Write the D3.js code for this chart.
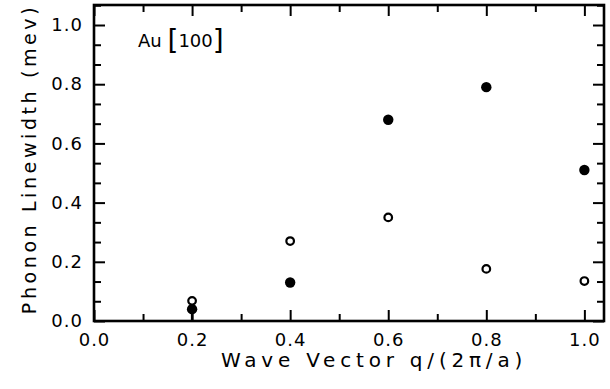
<!DOCTYPE html>
<html>
<head>
<meta charset="utf-8">
<script src="https://cdn.jsdelivr.net/npm/d3@7"></script>
<style>
  body { margin: 0; background: #fff; }
  text { font-family: "DejaVu Sans", sans-serif; fill: #000; }
</style>
</head>
<body>
<div id="chart"></div>
<script>
// data
const qValues = [0.2, 0.4, 0.6, 0.8, 1.0];
const filledWidth = [0.04, 0.13, 0.68, 0.79, 0.51];
const openWidth = [0.068, 0.27, 0.35, 0.176, 0.135];
// lower error bar on the first filled point only
const filledErrLow = [0.04, 0, 0, 0, 0];

const xMajor = [0.0, 0.2, 0.4, 0.6, 0.8, 1.0];
const xMinor = [0.1, 0.3, 0.5, 0.7, 0.9];
const yMajor = [0.0, 0.2, 0.4, 0.6, 0.8, 1.0];
const yMinor = [1, 2, 4, 5, 7, 8, 10, 11, 13, 14, 16].map(i => i / 15);

const W = 610, H = 389;
const plotLeft = 94, plotRight = 604, plotTop = 5, plotBottom = 321;

const svg = d3.select("#chart").append("svg")
    .attr("width", W)
    .attr("height", H);

const x = d3.scaleLinear().domain([0, 1.04]).range([plotLeft, plotRight]);
const y = d3.scaleLinear().domain([0, 1.0676]).range([plotBottom, plotTop]);

const fmt = d3.format(".1f");

function styleAxis(g) {
    g.select(".domain").remove();
    g.selectAll(".tick line").attr("stroke", "#000").attr("stroke-width", 2);
    g.selectAll("text").attr("font-size", 18).attr("letter-spacing", 1);
}

// frame
svg.append("rect")
    .attr("x", plotLeft)
    .attr("y", plotTop)
    .attr("width", plotRight - plotLeft)
    .attr("height", plotBottom - plotTop)
    .style("fill", "none")
    .style("stroke", "#000")
    .style("stroke-width", "2.6px");

// bottom axis
svg.append("g")
    .attr("transform", `translate(0,${plotBottom})`)
    .call(d3.axisBottom(x).tickValues(xMajor).tickSize(-11).tickPadding(12).tickFormat(fmt))
    .call(styleAxis);
svg.append("g")
    .attr("transform", `translate(0,${plotBottom})`)
    .call(d3.axisBottom(x).tickValues(xMinor).tickSize(-7).tickFormat(""))
    .call(styleAxis);
// top axis
svg.append("g")
    .attr("transform", `translate(0,${plotTop})`)
    .call(d3.axisTop(x).tickValues(xMajor).tickSize(-11).tickFormat(""))
    .call(styleAxis);
svg.append("g")
    .attr("transform", `translate(0,${plotTop})`)
    .call(d3.axisTop(x).tickValues(xMinor).tickSize(-7).tickFormat(""))
    .call(styleAxis);
// left axis
svg.append("g")
    .attr("transform", `translate(${plotLeft},0)`)
    .call(d3.axisLeft(y).tickValues(yMajor).tickSize(-11).tickPadding(11).tickFormat(fmt))
    .call(styleAxis);
svg.append("g")
    .attr("transform", `translate(${plotLeft},0)`)
    .call(d3.axisLeft(y).tickValues(yMinor).tickSize(-7).tickFormat(""))
    .call(styleAxis);
// right axis
svg.append("g")
    .attr("transform", `translate(${plotRight},0)`)
    .call(d3.axisRight(y).tickValues(yMajor).tickSize(-11).tickFormat(""))
    .call(styleAxis);
svg.append("g")
    .attr("transform", `translate(${plotRight},0)`)
    .call(d3.axisRight(y).tickValues(yMinor).tickSize(-7).tickFormat(""))
    .call(styleAxis);

// error bars (drawn as narrow rects)
const errData = qValues.map((q, i) => ({q, v: filledWidth[i], e: filledErrLow[i]})).filter(d => d.e > 0);
svg.append("g").selectAll("rect")
    .data(errData)
    .join("rect")
    .attr("x", d => x(d.q) - 1.2)
    .attr("width", 2.4)
    .attr("y", d => y(d.v))
    .attr("height", d => y(d.v - d.e) - y(d.v))
    .style("fill", "#000");

// open circles
svg.append("g").selectAll("circle")
    .data(qValues.map((q, i) => ({q, v: openWidth[i]})))
    .join("circle")
    .attr("cx", d => x(d.q))
    .attr("cy", d => y(d.v))
    .attr("r", 3.8)
    .attr("fill", "#fff")
    .attr("stroke", "#000")
    .attr("stroke-width", 2.2);

// filled circles
svg.append("g").selectAll("circle")
    .data(qValues.map((q, i) => ({q, v: filledWidth[i]})))
    .join("circle")
    .attr("cx", d => x(d.q))
    .attr("cy", d => y(d.v))
    .attr("r", 5.2)
    .attr("fill", "#000");

// label inside the plot
const lab = svg.append("text")
    .attr("x", 138)
    .attr("y", 47)
    .attr("font-size", 18);
lab.append("tspan").text("Au ");
lab.append("tspan").attr("font-size", 28).attr("dy", 3).text("[");
lab.append("tspan").attr("dy", -3).text("100");
lab.append("tspan").attr("font-size", 28).attr("dy", 3).text("]");

// axis titles
svg.append("text")
    .attr("x", 374)
    .attr("y", 367)
    .attr("text-anchor", "middle")
    .attr("font-size", 20)
    .attr("letter-spacing", 4.8)
    .text("Wave Vector  q/(2π/a)");

svg.append("text")
    .attr("transform", `translate(36,${(plotTop + plotBottom) / 2 - 4}) rotate(-90)`)
    .attr("text-anchor", "middle")
    .attr("font-size", 19)
    .attr("letter-spacing", 3.6)
    .text("Phonon  Linewidth (mev)");
</script>
</body>
</html>
